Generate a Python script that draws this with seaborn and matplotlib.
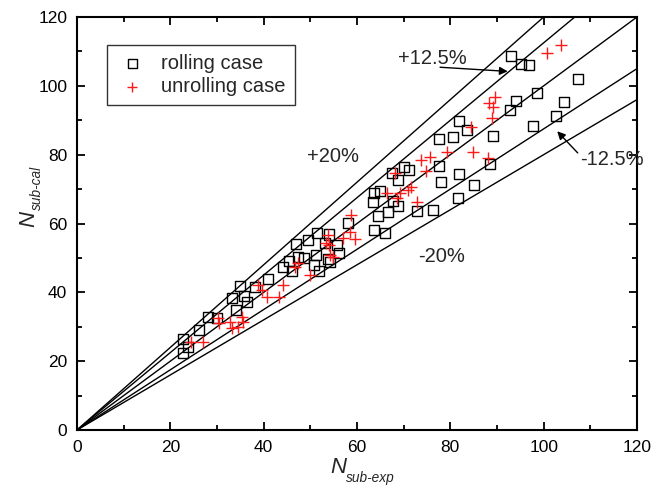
import matplotlib
matplotlib.use("Agg")
import matplotlib.pyplot as plt
import numpy as np
import pandas as pd
import seaborn as sns

# rolling case: (N_sub-exp, N_sub-cal)
rolling_exp = [22.7, 23.8, 22.7, 26.1, 28.1, 30.0, 33.2, 34.1, 34.9, 36.4, 35.8, 38.1,
               40.9, 44.1, 45.4, 46.1, 47.4, 46.9, 48.6, 49.5, 50.8, 51.2, 51.4, 51.9,
               53.1, 53.8, 54.0, 55.7, 56.1, 58.1, 54.2, 63.4, 63.6, 64.9, 64.5, 66.6,
               63.6, 66.0, 67.7, 68.8, 67.5, 68.8, 70.1, 71.1, 72.9, 76.3, 77.6, 78.0,
               77.6, 80.6, 81.8, 83.6, 81.6, 81.8, 85.1, 88.5, 89.1, 92.8, 94.1, 93.0,
               95.1, 96.9, 98.6, 97.7, 102.6, 104.3, 107.3]
rolling_cal = [26.4, 24.1, 22.4, 29.1, 32.8, 32.5, 38.3, 34.9, 41.8, 37.2, 39.0, 41.5,
               43.9, 47.4, 49.1, 46.2, 50.3, 54.0, 50.0, 55.2, 47.9, 50.8, 57.2, 46.2,
               54.3, 49.7, 56.8, 53.7, 51.4, 60.1, 48.9, 66.2, 68.9, 69.4, 62.2, 63.3,
               58.1, 57.2, 66.5, 65.1, 74.7, 72.6, 76.4, 75.5, 63.6, 63.9, 76.7, 72.1,
               84.5, 85.1, 89.8, 87.2, 67.4, 74.4, 71.2, 77.3, 85.4, 93.0, 95.6, 108.7,
               106.3, 106.0, 97.9, 88.3, 91.2, 95.3, 102.0]

# unrolling case: (N_sub-exp, N_sub-cal)
unrolling_exp = [24.4, 27.0, 30.2, 30.4, 32.8, 35.4, 35.6, 33.2, 34.5, 38.8, 39.6, 40.7,
                 43.3, 44.1, 46.7, 47.4, 49.9, 53.8, 53.4, 54.0, 54.2, 54.8, 57.0, 59.6,
                 58.7, 58.5, 66.4, 68.1, 69.2, 68.6, 70.9, 71.6, 72.9, 73.7, 74.8, 75.6,
                 79.3, 84.9, 84.4, 88.1, 88.9, 89.1, 88.3, 89.6, 100.7, 103.7]
unrolling_cal = [25.6, 25.6, 32.5, 31.1, 31.4, 32.8, 31.4, 29.6, 29.9, 42.1, 40.7, 38.6,
                 38.6, 42.1, 47.4, 48.5, 45.0, 56.7, 54.3, 53.7, 50.8, 50.2, 55.8, 55.5,
                 62.5, 57.5, 68.9, 74.7, 68.9, 67.4, 69.7, 70.6, 66.2, 78.4, 75.2, 79.3,
                 80.8, 80.8, 88.0, 79.0, 90.6, 93.8, 95.0, 96.7, 109.5, 111.9]

# error-band ratios N_cal / N_exp
band_ratios = [1.20, 1.125, 1.0, 0.875, 0.80]

sns.set_style("ticks")
plt.rcParams["font.family"] = ["Liberation Sans", "DejaVu Sans"]

fig = plt.figure(figsize=(6.53, 4.90), dpi=100)
ax = fig.add_axes([77 / 653, 1 - 430 / 490, 560 / 653, 413 / 490])

lim = 120
for r in band_ratios:
    xe = min(lim, lim / r)
    ax.plot([0, xe], [0, xe * r], color="black", lw=1.0, zorder=1)

df_roll = pd.DataFrame({"exp": rolling_exp, "cal": rolling_cal})
df_unroll = pd.DataFrame({"exp": unrolling_exp, "cal": unrolling_cal})

sns.scatterplot(data=df_roll, x="exp", y="cal", ax=ax, marker="s", s=55,
                facecolor="none", edgecolor="black", linewidth=1.0,
                label="rolling case", zorder=3)
sns.scatterplot(data=df_unroll, x="exp", y="cal", ax=ax, marker="+", s=70,
                color="#ff1a1a", linewidth=1.0, label="unrolling case", zorder=4)

ax.set_xlim(0, 120)
ax.set_ylim(0, 120)
ax.set_xticks(np.arange(0, 121, 20))
ax.set_yticks(np.arange(0, 121, 20))
ax.set_xticks(np.arange(0, 121, 10), minor=True)
ax.set_yticks(np.arange(0, 121, 10), minor=True)
ax.tick_params(which="both", direction="in", top=True, right=True,
               labelsize=12.5, width=1.3, colors="black", pad=7)
ax.tick_params(which="major", length=6)
ax.tick_params(which="minor", length=3.5)
for sp in ax.spines.values():
    sp.set_linewidth(1.5)
    sp.set_color("black")
    sp.set_visible(True)
ax.set_xlabel("")
ax.set_ylabel("")

# axis titles with italic subscripts
fig.text(330 / 653, 1 - 473 / 490, "N", fontsize=16, style="italic", va="baseline")
fig.text(346 / 653, 1 - 482 / 490, "sub-exp", fontsize=9.8, style="italic", va="baseline")
fig.text(18 / 653, 1 - 227 / 490, "N", fontsize=16, style="italic", rotation=90,
         ha="left", va="bottom")
fig.text(30 / 653, 1 - 210 / 490, "sub-cal", fontsize=9.8, style="italic", rotation=90,
         ha="left", va="bottom")

# band labels
ax.text(68.8, 108.0, "+12.5%", fontsize=14.5, ha="left", va="center")
ax.text(49.2, 79.5, "+20%", fontsize=14.5, ha="left", va="center")
ax.text(107.8, 78.5, "-12.5%", fontsize=14.5, ha="left", va="center")
ax.text(73.0, 50.5, "-20%", fontsize=14.5, ha="left", va="center")

ax.annotate("", xy=(92.3, 104.2), xytext=(77.8, 105.4),
            arrowprops=dict(arrowstyle="-|>", color="black", lw=1.0,
                            mutation_scale=12, shrinkA=0, shrinkB=0))
ax.annotate("", xy=(102.9, 86.8), xytext=(107.3, 80.5),
            arrowprops=dict(arrowstyle="-|>", color="black", lw=1.0,
                            mutation_scale=12, shrinkA=0, shrinkB=0))

leg = ax.legend(loc="upper left", bbox_to_anchor=(30 / 560, 385 / 413),
                borderaxespad=0, fontsize=14.5, frameon=True, fancybox=False,
                handletextpad=0.65, borderpad=0.45, labelspacing=0.2,
                handlelength=1.6, markerscale=0.85)
leg.get_frame().set_edgecolor("black")
leg.get_frame().set_linewidth(1.0)

fig.savefig("out.png", dpi=100)
